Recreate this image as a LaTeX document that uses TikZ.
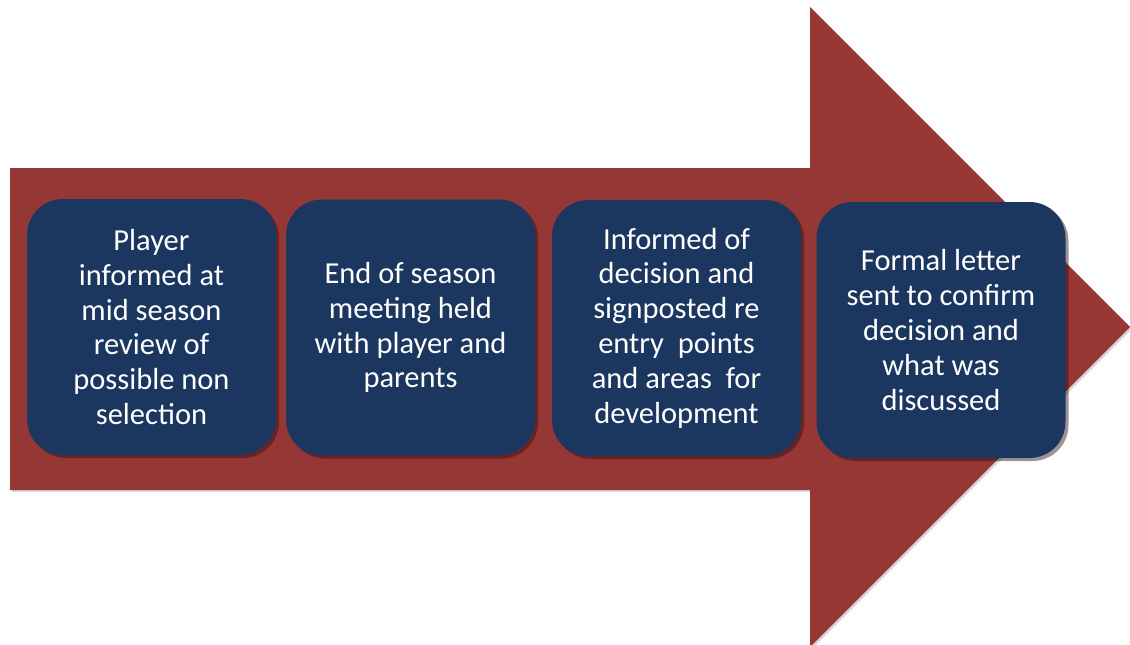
\documentclass[tikz,border=0pt]{standalone}
\usepackage{fontspec}
\setmainfont{Carlito}
\usetikzlibrary{shapes,arrows,positioning,shadows,calc}

\definecolor{arrowred}{HTML}{953735}
\definecolor{stepblue}{HTML}{1B375F}

\tikzset{
    stepbox/.style={fill=stepblue, text=white, rounded corners=36pt,
        minimum width=249pt, minimum height=256pt, align=center,
        font=\fontsize{30.5}{34.8}\selectfont,
        drop shadow={shadow xshift=3pt, shadow yshift=-3pt, opacity=0.45,
            fill=black!70!arrowred}}
}

\begin{document}
\begin{tikzpicture}[x=1pt,y=-1pt]
    \useasboundingbox (0,0) rectangle (1130,645);

    % Big arrow
    \fill[arrowred, drop shadow={shadow xshift=2pt, shadow yshift=-2pt, opacity=0.3}]
        (10,168) -- (810,168) -- (810,7) -- (1130,327) -- (810,647)
        -- (810,490) -- (10,490) -- cycle;

    % Steps
    \node[stepbox] (inform) at (151.5,327) {Player\\informed at\\mid season\\review of\\possible non\\selection};
    \node[stepbox] (meeting) at (410.5,327.5) {End of season\\meeting held\\with player and\\parents};
    \node[stepbox] (decision) at (676.5,328) {Informed of\\decision and\\signposted re\\entry\ \ points\\and areas\ \ for\\development};
    \node[stepbox] (letter) at (941,330) {Formal letter\\sent to confirm\\decision and\\what was\\discussed};
\end{tikzpicture}
\end{document}
